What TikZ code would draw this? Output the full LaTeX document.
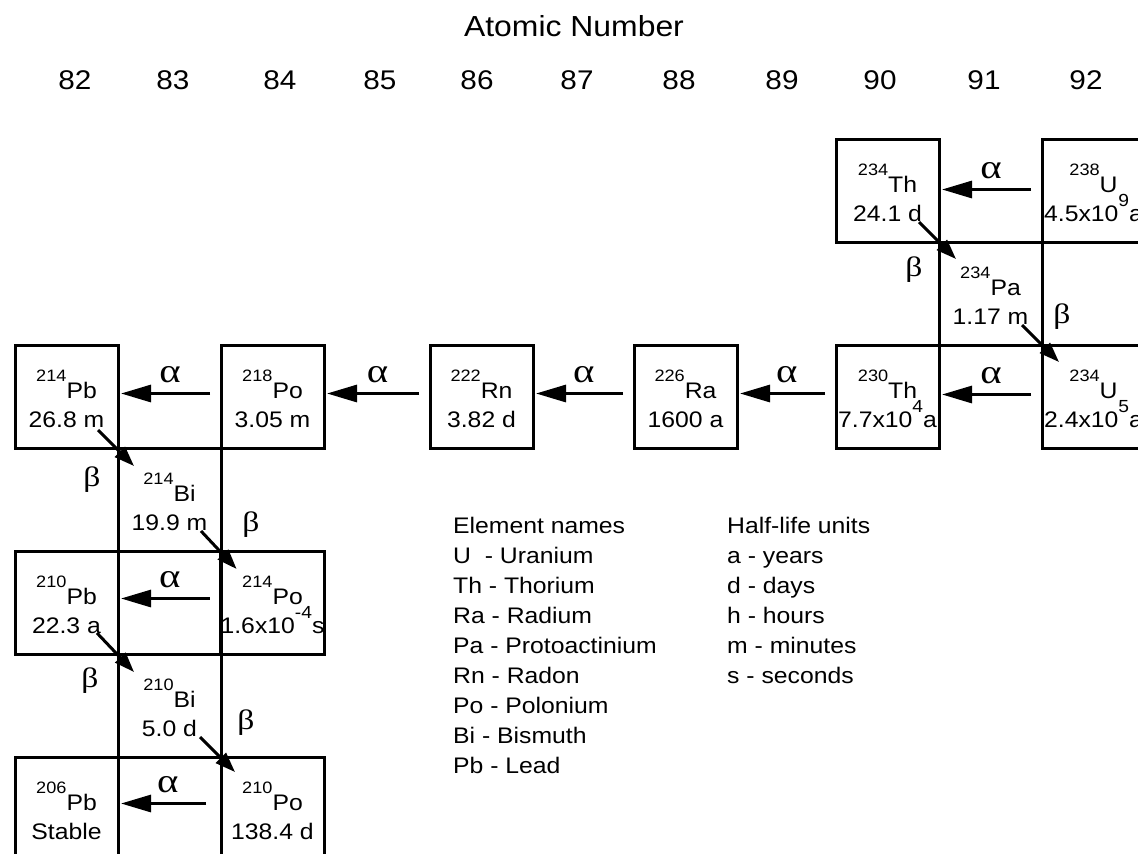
\documentclass[tikz,border=0pt]{standalone}
\usepackage{fontspec}
\setmainfont{Liberation Sans}[FakeStretch=1.1]
\newfontfamily\greekfont{Liberation Serif}[FakeStretch=1.2]
\usetikzlibrary{arrows.meta,calc}
\newcommand{\mass}[1]{\raisebox{17pt}[0pt][0pt]{\fontsize{16.5}{16.5}\selectfont #1}}
\newcommand{\expo}[1]{\raisebox{15pt}[0pt][0pt]{\fontsize{17.5}{17.5}\selectfont #1}}
\newcommand{\nuc}[3]{\raisebox{-1.5pt}[0pt][0pt]{\fontsize{22.5}{29}\selectfont\begin{tabular}[t]{@{}c@{}}\mass{#1}#2\\#3\end{tabular}}}
\begin{document}
\begin{tikzpicture}[x=1pt,y=-1pt,
  box/.style={draw, line width=3pt, minimum size=103pt, inner sep=0pt, outer sep=0pt},
  alphaarrow/.style={line width=3pt, -{Triangle[length=30pt,width=17pt]}},
  betaarrow/.style={line width=3pt, -{Triangle[length=20pt,width=14pt]}},
  alab/.style={font={\greekfont\fontsize{34}{34}\selectfont}, anchor=base, yshift=11pt, inner sep=0pt},
  blab/.style={font={\greekfont\fontsize{28}{28}\selectfont}, inner sep=0pt},
  num/.style={font={\fontsize{27}{27}\selectfont}, anchor=base, inner sep=0pt},
  legend/.style={anchor=base west, inner sep=0pt}]
\useasboundingbox (0,0) rectangle (1138,854);
\fill[white] (0,0) rectangle (1138,854);

% header
\node[anchor=base, inner sep=0pt, font={\fontsize{29}{29}\selectfont}] (title) at (574,36) {Atomic Number};
\node[num] (n82) at (75,89) {82};
\node[num] (n83) at (173,89) {83};
\node[num] (n84) at (280,89) {84};
\node[num] (n85) at (380,89) {85};
\node[num] (n86) at (477,89) {86};
\node[num] (n87) at (577,89) {87};
\node[num] (n88) at (679,89) {88};
\node[num] (n89) at (782,89) {89};
\node[num] (n90) at (880,89) {90};
\node[num] (n91) at (984,89) {91};
\node[num] (n92) at (1086,89) {92};

% boxes
\node[box] (Pb214) at (66.5,396.5) {\nuc{214}{Pb}{26.8 m}};
\node[box] (Po218) at (272.5,396.5) {\nuc{218}{Po}{3.05 m}};
\node[box] (Rn222) at (481.5,396.5) {\nuc{222}{Rn}{3.82 d}};
\node[box] (Ra226) at (685.5,396.5) {\nuc{226}{Ra}{1600 a}};
\node[box] (Th230) at (887.5,396.5) {\nuc{230}{Th}{7.7x10\expo{4}a}};
\node[box] (U234) at (1093.5,396.5) {\nuc{234}{U}{2.4x10\expo{5}a}};
\node[box] (Th234) at (887.5,190.5) {\nuc{234}{Th}{24.1 d}};
\node[box] (U238) at (1093.5,190.5) {\nuc{238}{U}{4.5x10\expo{9}a}};
\node[box] (Pa234) at (990.5,293.5) {\nuc{234}{Pa}{1.17 m}};
\node[box] (Bi214) at (169.5,499.5) {\nuc{214}{Bi}{19.9 m}};
\node[box] (Pb210) at (66.5,602.5) {\nuc{210}{Pb}{22.3 a}};
\node[box] (gapA) at (169.5,602.5) {};
\node[box] (Po214) at (272.5,602.5) {\nuc{214}{Po}{1.6x10\expo{-4}s}};
\node[box] (Bi210) at (169.5,705.5) {\nuc{210}{Bi}{5.0 d}};
\node[box] (Pb206) at (66.5,808.5) {\nuc{206}{Pb}{Stable}};
\node[box] (gapB) at (169.5,808.5) {};
\node[box] (Po210) at (272.5,808.5) {\nuc{210}{Po}{138.4 d}};

% alpha decays
\draw[alphaarrow] ([xshift=-11pt,yshift=3pt]Po218.west) -- node[alab,pos=0.45] (a1) {α} ([xshift=3pt,yshift=3pt]Pb214.east);
\draw[alphaarrow] ([xshift=-11pt,yshift=3pt]Rn222.west) -- node[alab,pos=0.45] (a2) {α} ([xshift=3pt,yshift=3pt]Po218.east);
\draw[alphaarrow] ([xshift=-11pt,yshift=3pt]Ra226.west) -- node[alab,pos=0.45] (a3) {α} ([xshift=3pt,yshift=3pt]Rn222.east);
\draw[alphaarrow] ([xshift=-11pt,yshift=3pt]Th230.west) -- node[alab,pos=0.45] (a4) {α} ([xshift=3pt,yshift=3pt]Ra226.east);
\draw[alphaarrow] ([xshift=-11pt,yshift=2pt]U234.west) -- node[alab,pos=0.45] (a5) {α} ([xshift=3pt,yshift=2pt]Th230.east);
\draw[alphaarrow] ([xshift=-11pt,yshift=1pt]U238.west) -- node[alab,pos=0.45] (a6) {α} ([xshift=3pt,yshift=1pt]Th234.east);
\draw[alphaarrow] ([xshift=-11pt,yshift=4pt]Po214.west) -- node[alab,pos=0.45] (a7) {α} ([xshift=3pt,yshift=4pt]Pb210.east);
\draw[alphaarrow] ([xshift=-15pt,yshift=5pt]Po210.west) -- node[alab,pos=0.45] (a8) {α} ([xshift=3pt,yshift=5pt]Pb206.east);

% beta decays
\draw[betaarrow] ([shift={(-20,-20)}]Th234.south east) -- ([shift={(17,17)}]Pa234.north west);
\draw[betaarrow] ([shift={(-20,-20)}]Pa234.south east) -- ([shift={(17,17)}]U234.north west);
\draw[betaarrow] ([shift={(-20,-18)}]Pb214.south east) -- ([shift={(16,18)}]Bi214.north west);
\draw[betaarrow] ([shift={(-20,-20)}]Bi214.south east) -- ([shift={(16,18)}]Po214.north west);
\draw[betaarrow] ([shift={(-21,-21)}]Pb210.south east) -- ([shift={(16,18)}]Bi210.north west);
\draw[betaarrow] ([shift={(-21,-20)}]Bi210.south east) -- ([shift={(14,15)}]Po210.north west);
\node[blab] (b1) at ($(Th234.south east)+(-25,28)$) {β};
\node[blab] (b2) at ($(Pa234.south east)+(20,-28)$) {β};
\node[blab] (b3) at ($(Pb214.south east)+(-26,32)$) {β};
\node[blab] (b4) at ($(Bi214.south east)+(30,-26)$) {β};
\node[blab] (b5) at ($(Pb210.south east)+(-28,27)$) {β};
\node[blab] (b6) at ($(Bi210.south east)+(25,-34)$) {β};

% legends
\node[legend] (names) at (453,533) {\fontsize{22.5}{30}\selectfont\begin{tabular}[t]{@{}l@{}}Element names\\U\ \ - Uranium\\Th - Thorium\\Ra - Radium\\Pa - Protoactinium\\Rn - Radon\\Po - Polonium\\Bi - Bismuth\\Pb - Lead\end{tabular}};
\node[legend] (units) at (727,533) {\fontsize{22.5}{30}\selectfont\begin{tabular}[t]{@{}l@{}}Half-life units\\a - years\\d - days\\h - hours\\m - minutes\\s - seconds\end{tabular}};
\end{tikzpicture}
\end{document}
